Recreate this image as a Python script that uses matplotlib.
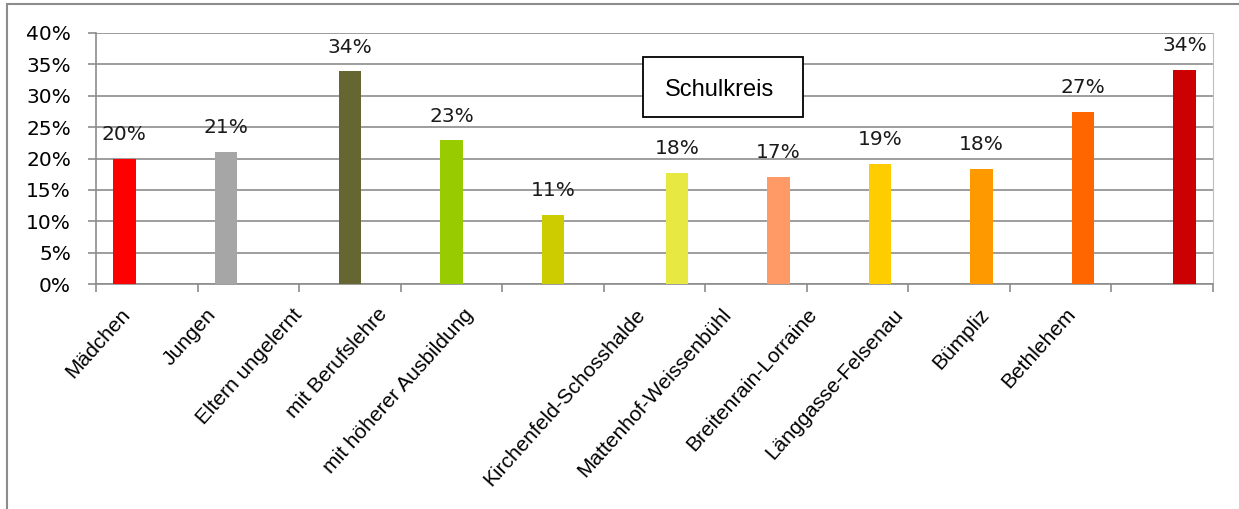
import matplotlib
matplotlib.use("Agg")
import matplotlib.pyplot as plt
from matplotlib.patches import Rectangle
from matplotlib.ticker import FuncFormatter

categories = ["Mädchen", "Jungen", "Eltern ungelernt", "mit Berufslehre",
              "mit höherer Ausbildung", "Kirchenfeld-Schosshalde",
              "Mattenhof-Weissenbühl", "Breitenrain-Lorraine",
              "Länggasse-Felsenau", "Bümpliz", "Bethlehem"]
series = ["Geschlecht", "Geschlecht", "Bildung", "Bildung", "Bildung",
          "Schulkreis", "Schulkreis", "Schulkreis", "Schulkreis", "Schulkreis", "Schulkreis"]
values = [19.9, 21.0, 33.9, 22.9, 11.0, 17.7, 17.1, 19.1, 18.3, 27.4, 34.1]
labels = ["20%", "21%", "34%", "23%", "11%", "18%", "17%", "19%", "18%", "27%", "34%"]
colors = ["#FF0000", "#A6A6A6", "#666633", "#99CC00", "#CCCC00", "#E8E843",
          "#FF9966", "#FFCC00", "#FF9900", "#FF6600", "#CC0000"]
yticks = [0, 5, 10, 15, 20, 25, 30, 35, 40]
series_order = ["Geschlecht", "Bildung", "Schulkreis"]

W, H = 1239, 509
fig = plt.figure(figsize=(W / 100, H / 100), dpi=100)
ax = fig.add_axes([96 / W, 1 - 284 / H, (1213 - 96) / W, (284 - 33) / H])

n = len(categories)
bw = 0.222
x = list(range(n))
xpos = [i + (series_order.index(s) - 1) * bw for i, s in zip(x, series)]
ax.bar(xpos, values, width=bw, color=colors, zorder=3)
ax.set_xlim(-0.5, n - 0.5)
ax.set_ylim(0, 40)
ax.set_yticks(yticks)
ax.yaxis.set_major_formatter(FuncFormatter(lambda v, p: f"{int(v)}%"))
ax.grid(axis="y", color="#8C8C8C", linewidth=1.2, zorder=0)

for xp, v, lab in zip(xpos, values, labels):
    ax.annotate(lab, (xp, v), xytext=(0, 13.5), textcoords="offset points",
                ha="center", va="baseline", fontsize=14.5, family="DejaVu Sans",
                color="#1A1A1A")

ax.spines["top"].set_visible(False)
ax.spines["right"].set_color("#BFBFBF")
ax.spines["left"].set_color("#8C8C8C")
ax.spines["bottom"].set_color("#8C8C8C")
ax.spines["left"].set_linewidth(1.2)
ax.spines["bottom"].set_linewidth(1.2)

ax.tick_params(axis="y", length=6, color="#8C8C8C", width=1.2, labelsize=14.5, pad=12)
for t in ax.get_yticklabels():
    t.set_family("DejaVu Sans")

# category boundary ticks
ax.set_xticks([i - 0.5 for i in range(n + 1)], minor=False)
ax.set_xticklabels([])
ax.tick_params(axis="x", which="major", length=6, color="#8C8C8C", width=1.2)

# rotated category labels: one blank label slot between the Bildung and Schulkreis groups
n_slots = n + 2
slot = [i + (1 if s == "Schulkreis" else 0) for i, s in enumerate(series)]
label_pos = [-0.5 + n / n_slots * (j + 0.5) - 0.19 for j in slot]
ax.set_xticks(label_pos, minor=True)
ax.set_xticklabels(categories, minor=True, rotation=48, ha="right", va="top",
                   rotation_mode="anchor", fontsize=15,
                   family=["Liberation Sans", "DejaVu Sans"])
ax.tick_params(axis="x", which="minor", length=0, pad=15)

# Schulkreis box
ax.add_patch(Rectangle((0.4897, 0.665), 0.1433, 0.239, transform=ax.transAxes,
                       facecolor="white", edgecolor="black", linewidth=1.3, zorder=5))
ax.text(0.558, 0.773, "Schulkreis", transform=ax.transAxes, ha="center", va="center",
        fontsize=17, family=["Liberation Sans Narrow", "Liberation Sans", "DejaVu Sans"],
        zorder=6)

# outer frame
fig.patches.append(Rectangle((7 / W, -0.1), 1.2, 1 - 4 / H + 0.1, transform=fig.transFigure,
                             fill=False, edgecolor="#8C8C8C", linewidth=1.5))

fig.savefig("out.png", dpi=100, facecolor="white")
